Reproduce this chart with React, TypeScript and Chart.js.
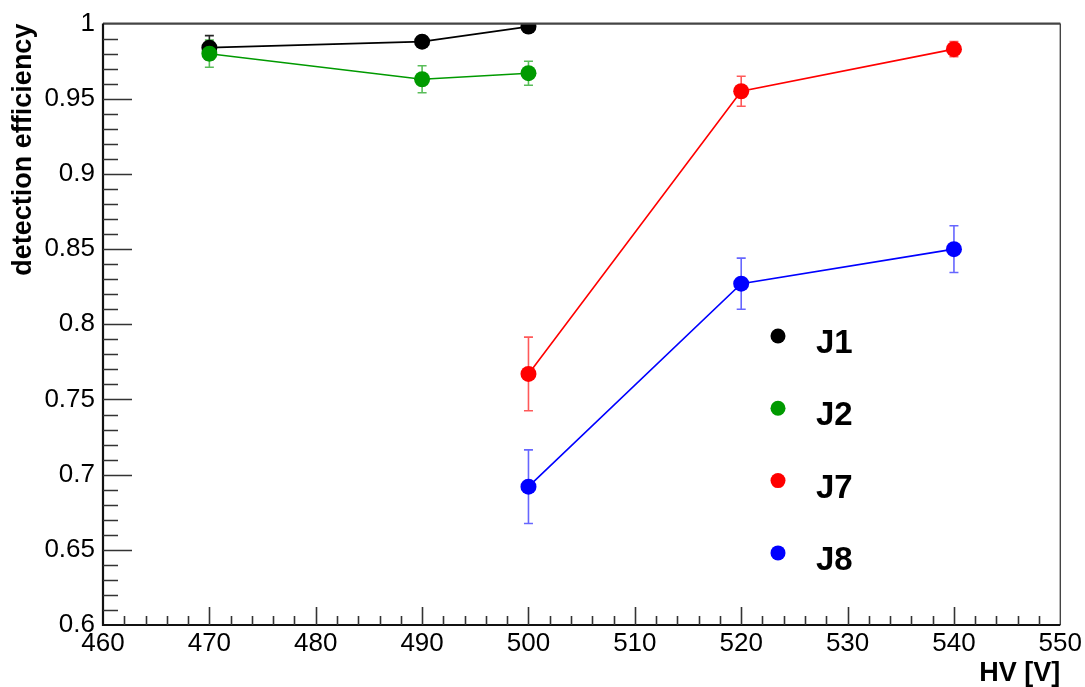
import React, { useEffect, useRef } from "react";
import { Chart, registerables } from "chart.js";

Chart.register(...registerables);

// ---- data ----
const seriesNames = ["J1", "J2", "J7", "J8"];
const seriesColors = ["#000000", "#009a00", "#ff0000", "#0000ff"];
const errColors = ["rgba(0,0,0,0.85)", "rgba(0,154,0,0.65)", "rgba(255,0,0,0.65)", "rgba(0,0,255,0.6)"];

const hvJ1 = [470, 490, 500];
const effJ1 = [0.984, 0.988, 0.998];
const errJ1 = [0.008, 0.002, 0.001];

const hvJ2 = [470, 490, 500];
const effJ2 = [0.98, 0.963, 0.967];
const errJ2 = [0.009, 0.009, 0.008];

const hvJ7 = [500, 520, 540];
const effJ7 = [0.767, 0.955, 0.983];
const errJ7 = [0.0245, 0.01, 0.005];

const hvJ8 = [500, 520, 540];
const effJ8 = [0.692, 0.827, 0.85];
const errJ8 = [0.0245, 0.017, 0.0155];

const xMin = 460;
const xMax = 550;
const xStep = 10;
const yMin = 0.6;
const yMax = 1.0;
const yStep = 0.05;

const xTitle = "HV [V]";
const yTitle = "detection efficiency";

const allHv = [hvJ1, hvJ2, hvJ7, hvJ8];
const allEff = [effJ1, effJ2, effJ7, effJ8];
const allErr = [errJ1, errJ2, errJ7, errJ8];

const FONT = "'Liberation Sans', Arial, Helvetica, sans-serif";

const rootPlugin = {
  id: "rootStyle",
  beforeDatasetsDraw(chart: any) {
    const ctx = chart.ctx;
    const xs = chart.scales.x;
    const ys = chart.scales.y;
    ctx.save();
    ctx.lineWidth = 1.6;
    allHv.forEach((hv, si) => {
      ctx.strokeStyle = errColors[si];
      hv.forEach((x, i) => {
        const px = xs.getPixelForValue(x);
        const top = ys.getPixelForValue(allEff[si][i] + allErr[si][i]);
        const bot = ys.getPixelForValue(allEff[si][i] - allErr[si][i]);
        ctx.beginPath();
        ctx.moveTo(px, top);
        ctx.lineTo(px, bot);
        ctx.moveTo(px - 4.5, top);
        ctx.lineTo(px + 4.5, top);
        ctx.moveTo(px - 4.5, bot);
        ctx.lineTo(px + 4.5, bot);
        ctx.stroke();
      });
    });
    ctx.restore();
  },
  afterDraw(chart: any) {
    const ctx = chart.ctx;
    const xs = chart.scales.x;
    const ys = chart.scales.y;
    const { left, right, top, bottom } = chart.chartArea;
    ctx.save();
    // frame top and right
    ctx.strokeStyle = "#444";
    ctx.lineWidth = 2.2;
    ctx.beginPath();
    ctx.moveTo(left, top);
    ctx.lineTo(right, top);
    ctx.stroke();
    ctx.lineWidth = 1.4;
    ctx.beginPath();
    ctx.moveTo(right, top);
    ctx.lineTo(right, bottom);
    ctx.stroke();
    // axes
    ctx.strokeStyle = "#111";
    ctx.lineWidth = 2.2;
    ctx.beginPath();
    ctx.moveTo(left, top);
    ctx.lineTo(left, bottom);
    ctx.lineTo(right, bottom);
    ctx.stroke();
    // ticks
    ctx.strokeStyle = "#333";
    ctx.lineWidth = 1.6;
    ctx.beginPath();
    const nY = Math.round((yMax - yMin) / 0.01);
    for (let k = 1; k < nY; k++) {
      const v = yMin + k * 0.01;
      const py = Math.round(ys.getPixelForValue(v)) + 0.5;
      const major = k % 5 === 0;
      ctx.moveTo(left, py);
      ctx.lineTo(left + (major ? 29 : 15), py);
    }
    const nX = Math.round((xMax - xMin) / 2);
    for (let k = 1; k < nX; k++) {
      const v = xMin + k * 2;
      const px = Math.round(xs.getPixelForValue(v)) + 0.5;
      const major = k % 5 === 0;
      ctx.moveTo(px, bottom);
      ctx.lineTo(px, bottom - (major ? 18 : 9));
    }
    ctx.stroke();
    // legend
    const lx = 778;
    const tx = 816;
    const ly0 = 336;
    const dy = 72.3;
    seriesNames.forEach((name, i) => {
      const y = ly0 + i * dy;
      ctx.fillStyle = seriesColors[i];
      ctx.beginPath();
      ctx.arc(lx, y, 7.5, 0, Math.PI * 2);
      ctx.fill();
      ctx.fillStyle = "#000";
      ctx.font = `bold 33px ${FONT}`;
      ctx.textAlign = "left";
      ctx.textBaseline = "alphabetic";
      ctx.fillText(name, tx, y + 17);
    });
    ctx.restore();
  },
};

function fmt(v: number) {
  return String(parseFloat(Number(v).toFixed(2)));
}

export default function App() {
  const ref = useRef<HTMLCanvasElement | null>(null);
  useEffect(() => {
    if (!ref.current) return;
    const datasets = seriesNames.map((name, si) => ({
      label: name,
      data: allHv[si].map((x, i) => ({ x, y: allEff[si][i] })),
      showLine: true,
      borderColor: seriesColors[si],
      backgroundColor: seriesColors[si],
      borderWidth: 1.6,
      pointRadius: 8,
      pointBorderWidth: 0,
      pointHoverRadius: 8,
      order: si === 0 ? 2 : si === 1 ? 1 : 0,
    }));
    const chart = new Chart(ref.current, {
      type: "scatter",
      data: { datasets },
      plugins: [rootPlugin],
      options: {
        animation: false,
        responsive: false,
        devicePixelRatio: 1,
        layout: { padding: { top: 23, right: 24, left: 0, bottom: 0 } },
        plugins: { legend: { display: false }, tooltip: { enabled: false } },
        scales: {
          x: {
            type: "linear",
            min: xMin,
            max: xMax,
            grid: { display: false, drawTicks: false },
            border: { display: false },
            ticks: {
              stepSize: xStep,
              padding: 3,
              color: "#000",
              font: { family: FONT, size: 26, lineHeight: 1.2 },
              maxRotation: 0,
              autoSkip: false,
              callback: (v: any) => String(v),
            },
            title: {
              display: true,
              text: xTitle,
              align: "end",
              color: "#000",
              font: { family: FONT, size: 27, weight: "bold", lineHeight: 1 },
              padding: { top: 0, bottom: 0 },
            },
            afterFit: (s: any) => {
              s.height = 62;
            },
          },
          y: {
            type: "linear",
            min: yMin,
            max: yMax,
            grid: { display: false, drawTicks: false },
            border: { display: false },
            ticks: {
              stepSize: yStep,
              padding: 8,
              color: "#000",
              font: { family: FONT, size: 26, lineHeight: 1.2 },
              autoSkip: false,
              callback: (v: any) => fmt(v),
            },
            title: {
              display: true,
              text: yTitle,
              align: "end",
              color: "#000",
              font: { family: FONT, size: 27, weight: "bold", lineHeight: 1.2 },
              padding: { top: 7, bottom: 0 },
            },
            afterFit: (s: any) => {
              s.width = 103;
            },
          },
        },
      },
    } as any);
    return () => chart.destroy();
  }, []);
  return (
    <div style={{ position: "absolute", left: 0, top: 0, width: 1085, height: 687, background: "#fff" }}>
      <canvas ref={ref} width={1085} height={687} style={{ width: 1085, height: 687, display: "block" }} />
    </div>
  );
}
